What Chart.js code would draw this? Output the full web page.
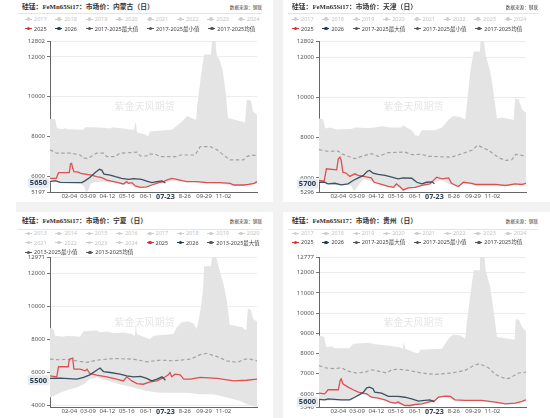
<!DOCTYPE html>
<html><head><meta charset="utf-8">
<script src="https://cdn.jsdelivr.net/npm/chart.js@4.4.0/dist/chart.umd.min.js"></script>
<style>
body{margin:0;width:550px;height:418px;background:#fff;position:relative;overflow:hidden;font-family:'Noto Sans','Noto Sans CJK SC',sans-serif;}
.gut{position:absolute;background:#f2f2f2;}
.title{position:absolute;font-family:'Liberation Serif','Noto Sans CJK SC',serif;font-weight:bold;font-size:6.8px;color:#333;white-space:nowrap;height:10px;line-height:10px;}
.src{position:absolute;font-size:4.6px;color:#444;white-space:nowrap;height:10px;line-height:10px;transform:translateX(-100%);}
.sep{position:absolute;height:1px;background:#e4e4e4;}
.lrow{position:absolute;display:flex;align-items:center;gap:8.8px;white-space:nowrap;font-size:5.5px;height:10px;line-height:10px;}
.li{display:flex;align-items:center;}
.mk{position:relative;display:inline-block;width:7px;height:4px;margin-right:2px;}
.mk::before{content:'';position:absolute;left:0;right:0;top:1.5px;height:1px;background:currentColor}
.mk::after{content:'';position:absolute;left:1.75px;top:0.25px;width:3.5px;height:3.5px;border-radius:50%;background:currentColor}
canvas{position:absolute;}
</style></head><body>
<div class="gut" style="left:273px;top:0;width:10px;height:418px"></div>
<div class="gut" style="left:16px;top:202px;width:534px;height:10px"></div>
<script>
// ---------- shared axis data ----------
const xTickDays = [35, 68, 102, 136, 170, 204, 238, 272, 306];
const xTickLabels = ['02-04', '03-09', '04-12', '05-16', '06-1', '07-23', '8-26', '09-29', '11-02'];
const currentDay = 204;
const watermarkText = '紫金天风期货';
const sourceText = '数据来源：钢联';

// ---------- 内蒙古 ----------
const nmMax = [[1,8870],[10,8870],[13,8410],[24,8360],[27,8410],[33,8360],[60,8330],[63,8460],[89,8450],[107,8390],[110,8460],[130,8390],[145,8330],[149,8360],[151,8700],[152,8660],[154,8190],[168,8110],[173,7990],[177,8240],[215,8330],[221,8460],[233,8750],[242,9030],[250,8920],[258,8830],[260,9590],[266,10940],[272,12120],[284,12120],[286,12802],[292,12802],[294,12120],[300,11780],[305,11280],[310,10180],[314,8920],[344,8700],[347,9840],[354,9810],[358,9250],[365,9090]];
const nmMin = [[1,5680],[12,5690],[20,5640],[55,5630],[60,5500],[65,5197],[68,5250],[72,5600],[80,5700],[100,5700],[112,5680],[121,5630],[130,5560],[139,5600],[150,5460],[160,5400],[171,5430],[180,5510],[192,5630],[205,5680],[215,5760],[230,5720],[260,5680],[300,5630],[324,5510],[341,5510],[365,5600]];
const nmAvg = [[1,7320],[13,7150],[39,7150],[54,7060],[60,6900],[68,6890],[77,7060],[83,7150],[95,7150],[101,6980],[115,6980],[124,7150],[154,7200],[160,7010],[171,7010],[174,7100],[186,7100],[195,6980],[224,6980],[230,7060],[256,7060],[265,7480],[283,7480],[295,7320],[306,7060],[318,6810],[341,6810],[347,6980],[356,7060],[365,7030]];
const nm2025 = [[1,5880],[12,5880],[16,6170],[35,6170],[37,6610],[39,6640],[41,6390],[43,6220],[51,6200],[55,6140],[66,6090],[74,6050],[83,5970],[92,5920],[101,5800],[113,5720],[121,5670],[130,5600],[136,5720],[139,5630],[145,5670],[151,5500],[160,5430],[171,5460],[180,5550],[192,5670],[201,5720],[206,5800],[215,5880],[224,5830],[233,5770],[242,5720],[259,5720],[277,5670],[300,5670],[318,5630],[324,5550],[341,5550],[350,5580],[360,5630],[365,5720]];
const nm2026 = [[1,5720],[10,5770],[19,5680],[57,5670],[63,5770],[71,5930],[80,6170],[88,6340],[92,6300],[96,6100],[107,6050],[116,5970],[127,5880],[139,5830],[148,5870],[162,5830],[171,5750],[180,5670],[189,5720],[198,5760],[204,5650]];
const nmYTicks = [5197, 6000, 8000, 10000, 12000, 12802];
const nmLast = 5650;

// ---------- 天津 ----------
const tjMax = [[1,8950],[8,8920],[12,8450],[20,8500],[32,8400],[58,8430],[64,8500],[87,8480],[99,8500],[111,8570],[126,8500],[146,8500],[149,8620],[155,8500],[164,8370],[170,8120],[176,8080],[182,8370],[205,8370],[217,8500],[229,8900],[237,9070],[249,9030],[258,8900],[261,9620],[267,11280],[273,12280],[284,12280],[285,12802],[291,12802],[294,12120],[302,11280],[306,10620],[314,8950],[323,9000],[343,8870],[346,9950],[352,9900],[358,9400],[365,9230]];
const tjMin = [[1,5750],[10,5740],[17,5670],[40,5620],[52,5650],[58,5600],[62,5350],[66,5450],[72,5700],[80,5950],[98,5750],[111,5640],[122,5530],[131,5500],[143,5530],[150,5296],[158,5470],[170,5500],[181,5580],[196,5670],[205,5800],[217,5900],[229,5700],[246,5530],[255,5740],[276,5630],[311,5630],[328,5580],[346,5660],[365,5700]];
const tjAvg = [[1,7400],[17,7320],[35,7330],[40,7200],[64,6950],[76,7070],[93,7200],[105,7070],[123,7250],[152,7280],[164,7150],[182,7170],[193,7070],[234,7030],[252,7200],[270,7370],[280,7620],[299,7370],[317,7000],[329,6870],[340,6900],[347,7170],[365,7080]];
const tj2025 = [[1,5870],[10,5830],[14,6450],[32,6400],[35,6950],[38,7030],[40,6870],[43,6280],[49,6230],[55,6070],[64,6200],[70,6120],[79,6070],[93,6000],[98,5780],[111,5670],[123,5570],[132,5530],[137,5700],[143,5570],[149,5400],[158,5500],[170,5530],[182,5620],[196,5700],[205,5950],[208,6030],[217,5950],[229,6000],[234,5730],[246,5570],[255,5780],[270,5730],[276,5670],[311,5670],[329,5620],[346,5700],[358,5670],[365,5730]];
const tj2026 = [[1,5780],[10,5780],[17,5700],[29,5730],[40,5650],[52,5700],[61,5870],[70,6000],[79,6120],[86,6330],[90,6370],[96,6230],[105,6170],[117,6120],[129,6030],[140,5950],[149,6000],[164,5980],[173,5780],[182,5700],[190,5780],[200,5800],[204,5700]];
const tjYTicks = [5296, 6000, 8000, 10000, 12000, 12802];
const tjLast = 5700;

// ---------- 宁夏 ----------
const nxMax = [[1,8670],[7,8610],[10,8200],[25,8140],[30,8200],[54,8140],[60,8470],[83,8510],[89,8410],[101,8450],[113,8350],[130,8390],[145,8310],[150,8200],[152,8810],[154,8310],[171,8060],[177,8000],[183,8200],[218,8310],[224,8710],[233,9020],[242,9080],[253,8960],[259,8610],[265,9630],[270,10940],[272,12410],[284,12410],[286,12971],[293,12971],[300,12060],[306,11350],[312,10340],[317,8870],[339,8710],[346,8510],[349,9830],[354,9770],[358,9220],[365,9060]];
const nxMin = [[1,4450],[7,4550],[19,4750],[30,4900],[48,5060],[60,5260],[71,5570],[83,5670],[92,5570],[107,5420],[124,5260],[148,5060],[171,4850],[195,4750],[242,4750],[265,4650],[289,4650],[312,4450],[336,4250],[347,4040],[365,3880]];
const nxAvg = [[1,6780],[19,6740],[30,6780],[54,6640],[66,6580],[83,6720],[113,6820],[148,6780],[171,6620],[195,6720],[218,6680],[248,6780],[265,7050],[277,7130],[295,6930],[312,6680],[330,6580],[344,6780],[353,6780],[365,6680]];
const nx2025 = [[1,5770],[13,5710],[16,6320],[33,6320],[35,6780],[41,6840],[43,6170],[54,6170],[63,6070],[66,6170],[71,5910],[83,5810],[101,5710],[118,5570],[130,5460],[136,5710],[145,5460],[154,5300],[165,5260],[177,5400],[189,5460],[204,5710],[209,5830],[212,5970],[215,5710],[221,5870],[230,5830],[236,5570],[248,5570],[265,5670],[295,5610],[324,5460],[347,5500],[365,5570]];
const nx2026 = [[1,5610],[19,5630],[48,5570],[60,5670],[71,5830],[83,6110],[89,6240],[95,6030],[107,5970],[124,5870],[136,5770],[148,5710],[160,5730],[171,5610],[180,5460],[189,5570],[198,5710],[204,5500]];
const nxYTicks = [4000, 6000, 8000, 10000, 12000, 12971];
const nxLast = 5500;

// ---------- 贵州 ----------
const gzMax = [[1,8890],[10,8810],[14,8310],[23,8350],[29,8260],[55,8260],[61,8480],[90,8530],[99,8450],[117,8400],[143,8310],[148,8230],[150,8560],[153,8230],[167,8070],[176,7980],[179,8180],[217,8230],[229,8730],[237,8940],[249,8890],[258,8730],[261,9550],[267,10880],[273,12120],[283,12120],[284,12777],[292,12777],[294,12120],[302,11290],[308,10130],[314,8810],[323,8780],[345,8680],[347,9720],[353,9640],[358,9310],[365,9090]];
const gzMin = [[1,5690],[11,5670],[55,5670],[64,5800],[72,5930],[80,5960],[93,5800],[105,5750],[117,5670],[126,5550],[135,5500],[146,5470],[152,5390],[163,5346],[170,5430],[182,5470],[193,5550],[205,5630],[211,5800],[223,5850],[240,5670],[287,5640],[311,5550],[329,5470],[346,5500],[365,5670]];
const gzAvg = [[1,7400],[11,7290],[29,7240],[40,7290],[52,7120],[67,7030],[82,7070],[93,7190],[105,7120],[120,7030],[129,7190],[140,7220],[158,7160],[182,7030],[205,6960],[234,7030],[258,7160],[273,7400],[283,7490],[299,7290],[311,6960],[329,6740],[337,6790],[352,7030],[365,7070]];
const gz2025 = [[1,6030],[11,6000],[17,6200],[35,6200],[38,6630],[40,6740],[43,6500],[52,6330],[61,6200],[70,6080],[85,6000],[93,5830],[105,5790],[117,5700],[126,5590],[135,5540],[140,5590],[146,5500],[152,5420],[161,5420],[170,5470],[182,5500],[193,5590],[205,5670],[211,5830],[223,5880],[232,5870],[240,5700],[258,5670],[287,5670],[311,5590],[329,5500],[346,5540],[358,5620],[365,5700]];
const gz2026 = [[1,5720],[11,5700],[17,5750],[40,5700],[55,5700],[64,5830],[73,5970],[79,6080],[85,6300],[90,6330],[96,6250],[99,6080],[111,6030],[123,5870],[140,5870],[152,5830],[164,5750],[176,5640],[187,5670],[196,5700],[204,5600]];
const gzYTicks = [5346, 6000, 7000, 8000, 9000, 10000, 11000, 12000, 12777];
const gzLast = 5600;

// ---------- legend labels ----------
const years17 = ['2017','2018','2019','2020','2021','2022','2023','2024'];
const years13a = ['2013','2014','2015','2016','2017','2018','2019','2020'];
const years13b = ['2021','2022','2023','2024'];

// ---------- styling ----------
const C_GREY = '#cfcfcf', C_RED = '#d9302f', C_NAVY = '#1f3a5a', C_DARK = '#555';
const g = s => ({t:s, c:C_GREY, tc:'#c4c4c4'});
const std17 = [years17.map(g), [{t:'2025',c:C_RED},{t:'2026',c:C_NAVY},{t:'2017-2025最大值',c:C_DARK},{t:'2017-2025最小值',c:C_DARK},{t:'2017-2025均值',c:C_DARK}]];
const std13 = [years13a.map(g), years13b.map(g).concat([{t:'2025',c:C_RED},{t:'2026',c:C_NAVY},{t:'2013-2025最大值',c:C_DARK}]), [{t:'2013-2025最小值',c:C_DARK},{t:'2013-2025均值',c:C_DARK}]];

const panels = [
  {title:'硅锰：FeMn65Si17：市场价：内蒙古（日）', tx:22, ty:6.7, sx:262, sep:[18,262,12.7], lx:25, ly:[19,28.7], rows:std17,
   plot:{L:50,T:41,R:257,B:192}, ymin:5197, ymax:12802, ticks:nmYTicks, last:nmLast, d:[nm2026,nm2025,nmAvg,nmMax,nmMin]},
  {title:'硅锰：FeMn65Si17：市场价：天津（日）', tx:292, ty:6.7, sx:538, sep:[288,538,12.5], lx:292, ly:[19,28.7], rows:std17,
   plot:{L:319,T:41,R:526,B:192}, ymin:5296, ymax:12802, ticks:tjYTicks, last:tjLast, d:[tj2026,tj2025,tjAvg,tjMax,tjMin]},
  {title:'硅锰：FeMn65Si17：市场价：宁夏（日）', tx:22, ty:221, sx:262, sep:[18,262,229], lx:25, ly:[233.3,242.7,252.3], rows:std13,
   plot:{L:50,T:257,R:257,B:407}, ymin:3880, ymax:12971, ticks:nxYTicks, last:nxLast, d:[nx2026,nx2025,nxAvg,nxMax,nxMin]},
  {title:'硅锰：FeMn65Si17：市场价：贵州（日）', tx:292, ty:221, sx:538, sep:[288,538,229], lx:292, ly:[233.3,242.3], rows:std17,
   plot:{L:319,T:257,R:526,B:407}, ymin:5346, ymax:12777, ticks:gzYTicks, last:gzLast, d:[gz2026,gz2025,gzAvg,gzMax,gzMin]}
];

const toXY = arr => arr.map(p => ({x:p[0], y:p[1]}));

const overlay = {
  id:'overlay',
  afterDatasetsDraw(chart, args, o) {
    const {ctx, chartArea:a} = chart;
    ctx.save();
    ctx.font = '10px "Noto Sans CJK SC"';
    ctx.fillStyle = 'rgba(150,150,150,0.25)';
    ctx.textAlign = 'center'; ctx.textBaseline = 'middle';
    ctx.fillText(watermarkText, (a.left + a.right) / 2 - 9, (a.top + a.bottom) / 2 - 10);
    ctx.restore();
  },
  afterDraw(chart, args, o) {
    const {ctx, chartArea:a} = chart;
    const y = chart.scales.y.getPixelForValue(o.last);
    const txt = String(o.last);
    ctx.save();
    ctx.font = 'bold 7.5px "Noto Sans"';
    const w = ctx.measureText(txt).width;
    const right = a.left - 2;
    ctx.fillStyle = '#e8ecf0';
    ctx.beginPath();
    ctx.roundRect(right - w - 3, y - 5, w + 4, 10, 1.5);
    ctx.fill();
    ctx.fillStyle = '#2b3e50';
    ctx.textAlign = 'right'; ctx.textBaseline = 'middle';
    ctx.fillText(txt, right - 1, y + 0.3);
    ctx.restore();
  }
};

function addDiv(cls, style, text) {
  const d = document.createElement('div');
  d.className = cls; d.setAttribute('style', style);
  if (text !== undefined) d.textContent = text;
  document.body.appendChild(d);
  return d;
}

panels.forEach((p, i) => {
  const P = p.plot;
  const cv = document.createElement('canvas');
  const W = P.R - P.L + 34 + 14, H = P.B - P.T + 24;
  cv.width = W; cv.height = H;
  cv.style.left = (P.L - 34) + 'px'; cv.style.top = (P.T - 12) + 'px';
  cv.style.width = W + 'px'; cv.style.height = H + 'px';
  document.body.appendChild(cv);

  const base = {pointRadius:0, pointHoverRadius:0, tension:0};
  new Chart(cv, {
    type:'line',
    data:{datasets:[
      Object.assign({label:'2026', data:toXY(p.d[0]), borderColor:'#3a5064', borderWidth:1.3, fill:false}, base),
      Object.assign({label:'2025', data:toXY(p.d[1]), borderColor:'#de4f4f', borderWidth:1.3, fill:false}, base),
      Object.assign({label:'avg', data:toXY(p.d[2]), borderColor:'#a3a3a3', borderWidth:1.2, borderDash:[3.5,2.5], fill:false}, base),
      Object.assign({label:'max', data:toXY(p.d[3]), borderColor:'rgba(0,0,0,0)', borderWidth:1, backgroundColor:'#e4e4e4', fill:{target:4}}, base),
      Object.assign({label:'min', data:toXY(p.d[4]), borderColor:'rgba(0,0,0,0)', borderWidth:1, fill:false}, base)
    ]},
    options:{
      responsive:false, animation:false, devicePixelRatio:1,
      layout:{padding:{top:12, right:14, left:0, bottom:0}},
      plugins:{legend:{display:false}, tooltip:{enabled:false}, overlay:{last:p.last}},
      scales:{
        x:{type:'linear', min:1, max:365,
           afterBuildTicks:s => { s.ticks = xTickDays.map(v => ({value:v})); },
           afterFit:s => { s.height = 12; },
           grid:{display:false, drawTicks:false},
           border:{color:'#666', width:1},
           ticks:{autoSkip:false, maxRotation:0, padding:1,
             callback:v => xTickLabels[xTickDays.indexOf(v)],
             font:c => (c.tick && c.tick.value === currentDay) ? {family:'Noto Sans', size:7.2, weight:'bold'} : {family:'Noto Sans', size:6},
             color:c => (c.tick && c.tick.value === currentDay) ? '#2b3e50' : '#555'}},
        y:{type:'linear', min:p.ymin, max:p.ymax,
           afterBuildTicks:s => { s.ticks = p.ticks.map(v => ({value:v})); },
           afterFit:s => { s.width = 34; },
           grid:{color:'#ececec', tickColor:'#777', tickLength:3, drawTicks:true},
           border:{color:'#666', width:1},
           ticks:{padding:2, callback:v => String(v), font:{family:'Noto Sans', size:6}, color:'#555'}}
      }
    },
    plugins:[overlay]
  });

  addDiv('title', `left:${p.tx}px;top:${p.ty - 5}px`, p.title);
  addDiv('src', `left:${p.sx}px;top:${p.ty - 5}px`, sourceText);
  addDiv('sep', `left:${p.sep[0]}px;width:${p.sep[1] - p.sep[0]}px;top:${p.sep[2]}px`);
  p.rows.forEach((row, r) => {
    const rd = addDiv('lrow', `left:${p.lx}px;top:${p.ly[r] - 5}px`);
    row.forEach(it => {
      const li = document.createElement('span'); li.className = 'li';
      const mk = document.createElement('span'); mk.className = 'mk'; mk.style.color = it.c;
      const tx = document.createElement('span'); tx.textContent = it.t; tx.style.color = it.tc || '#444';
      li.appendChild(mk); li.appendChild(tx); rd.appendChild(li);
    });
  });
});
</script>
</body></html>
